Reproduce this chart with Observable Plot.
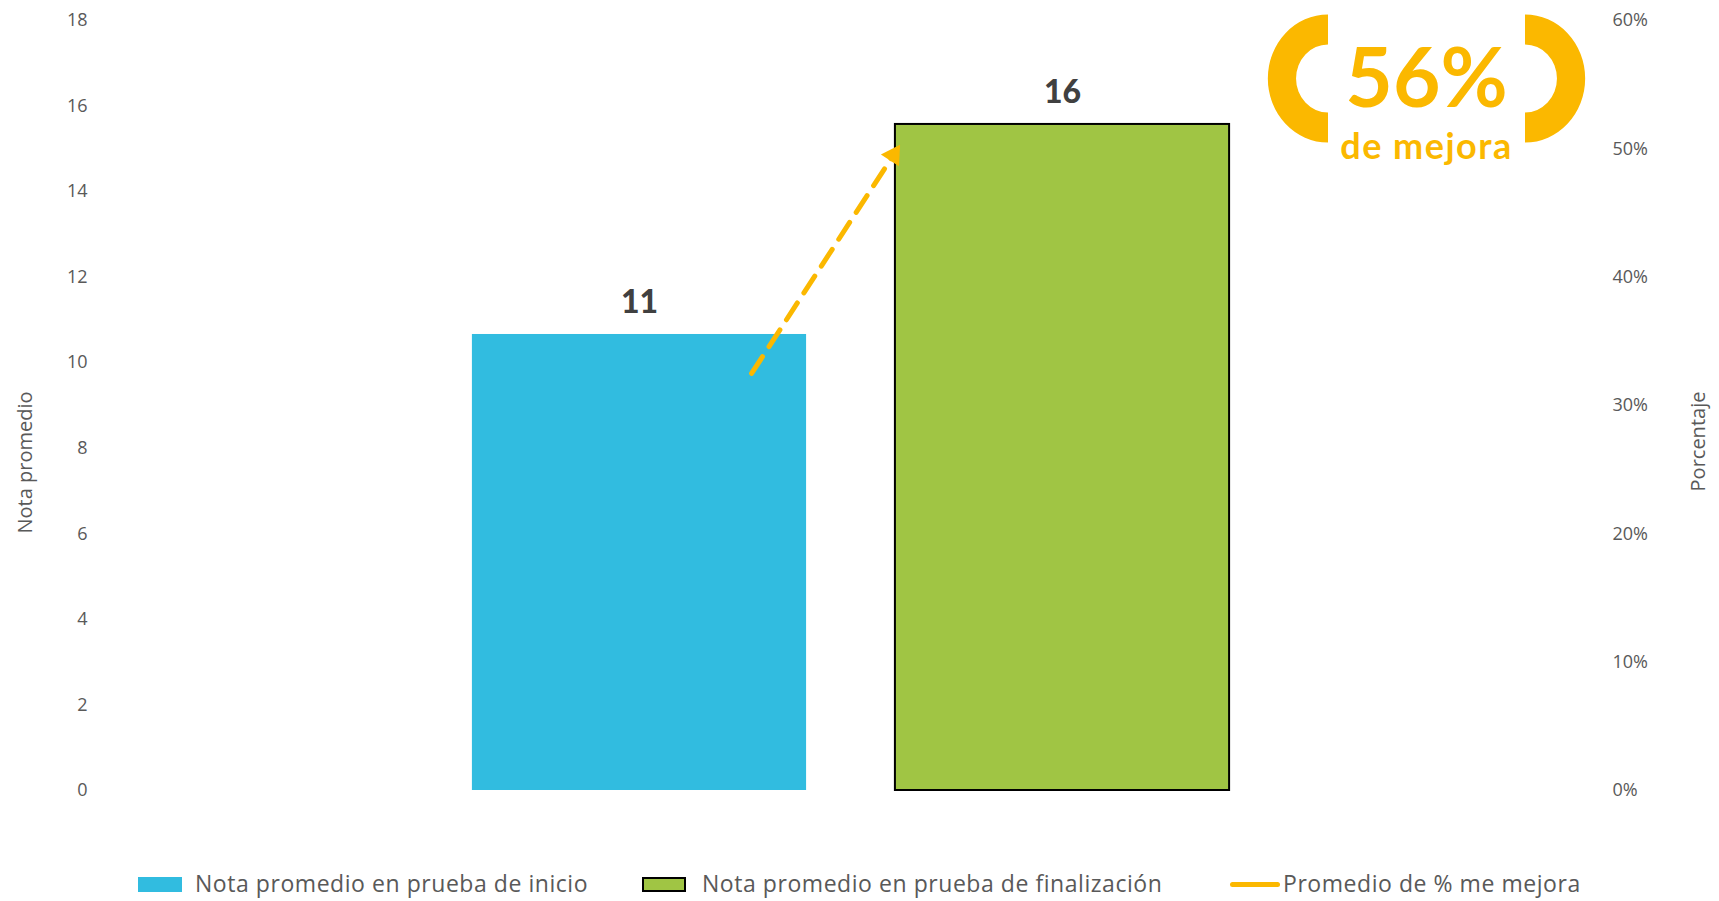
<!DOCTYPE html>
<html>
<head>
<meta charset="utf-8">
<script src="https://cdn.jsdelivr.net/npm/d3@7"></script>
<script src="https://cdn.jsdelivr.net/npm/@observablehq/plot@0.6"></script>
<style>
  html, body { margin: 0; padding: 0; background: #fff; }
  #wrap { position: relative; width: 1719px; height: 901px; overflow: hidden; }
  .leg { position: absolute; font-family: "Open Sans", sans-serif; font-size: 23px; letter-spacing: 0.55px; color: #595959; line-height: 1; white-space: nowrap; }
  .sw { position: absolute; }
</style>
</head>
<body>
<div id="wrap"></div>
<script>
// ---- data ----
const series = ["Nota promedio en prueba de inicio", "Nota promedio en prueba de finalización"];
const notas = [10.66, 15.57];
const colors = ["#31BCE0", "#A0C544"];
const lineName = "Promedio de % me mejora";
const lineColor = "#FBB800";
const mejoraX = [0.265, 0.60];      // arrow points (category units)
const mejoraPct = [0.325, 0.495];   // arrow values on secondary axis
const mejoraTotal = 0.56;
const leftTicks = [0, 2, 4, 6, 8, 10, 12, 14, 16, 18];
const rightTicks = [0, 0.1, 0.2, 0.3, 0.4, 0.5, 0.6];
const yTitle = "Nota promedio";
const y2Title = "Porcentaje";
const badgeSub = "de mejora";

const ratio = 18 / 0.6; // secondary axis: 60% <-> 18
const bars = series.map((s, i) => ({s, i, v: notas[i], c: colors[i]}));
const arrow = mejoraX.map((x, i) => ({x, y: mejoraPct[i] * ratio}));
const half = 0.395;

function badge(index, scales, values, dimensions) {
  const g = d3.create("svg:g");
  const cx1 = dimensions.width - 391, cx2 = dimensions.width - 194, cy = 78.5;
  const arcL = d3.arc().innerRadius(34).outerRadius(64).startAngle(Math.PI).endAngle(2 * Math.PI);
  const arcR = d3.arc().innerRadius(34).outerRadius(64).startAngle(0).endAngle(Math.PI);
  g.append("path").attr("d", arcL()).attr("fill", lineColor)
    .attr("transform", `translate(${cx1},${cy}) scale(0.94,1)`);
  g.append("path").attr("d", arcR()).attr("fill", lineColor)
    .attr("transform", `translate(${cx2},${cy}) scale(0.94,1)`);
  const cx = (cx1 + cx2) / 2;
  g.append("text").attr("x", cx).attr("y", 107).attr("text-anchor", "middle")
    .attr("font-family", "Lato").attr("font-weight", 700).attr("font-size", 82)
    .attr("fill", lineColor).text(Math.round(mejoraTotal * 100) + "%");
  g.append("text").attr("x", cx).attr("y", 159).attr("text-anchor", "middle")
    .attr("font-family", "Lato").attr("font-weight", 700).attr("font-size", 36)
    .attr("letter-spacing", "1.5px")
    .attr("fill", lineColor).text(badgeSub);
  return g.node();
}

const chart = Plot.plot({
  width: 1719,
  height: 820,
  marginLeft: 95,
  marginRight: 113,
  marginTop: 20,
  marginBottom: 30,
  x: {domain: [-1.286, 2.286], axis: null},
  y: {domain: [0, 18], axis: null},
  style: {fontFamily: "Open Sans", fontSize: "18px", color: "#595959", background: "white"},
  marks: [
    Plot.axisY(leftTicks, {anchor: "left", tickSize: 0, tickPadding: 8, label: null, fontSize: 18}),
    Plot.axisY(rightTicks.map(p => p * ratio), {anchor: "right", tickSize: 0, tickPadding: 6, label: null, fontSize: 18,
      tickFormat: d => Math.round(d / ratio * 100) + "%"}),
    Plot.text([yTitle], {frameAnchor: "left", textAnchor: "middle", text: d => d, rotate: -90, dx: -70, dy: 57,
      fontSize: 20, fill: "#595959", ariaLabel: "ytitle"}),
    Plot.text([y2Title], {frameAnchor: "right", textAnchor: "middle", text: d => d, rotate: -90, dx: 92, dy: 36,
      fontSize: 20, fill: "#595959", ariaLabel: "ytitle"}),
    Plot.rectY(bars.slice(0, 1), {x1: d => d.i - half, x2: d => d.i + half, y: "v", fill: "c"}),
    Plot.rectY(bars.slice(1), {x1: d => d.i - half, x2: d => d.i + half, y: "v", fill: "c",
      stroke: "#000", strokeWidth: 2, ariaLabel: "green-bar"}),
    Plot.text(bars, {x: "i", y: "v", text: d => String(Math.round(d.v)), dy: -32, fontSize: 32,
      fontWeight: 900, fontFamily: "Lato", fill: "#404040", ariaLabel: "bar-labels"}),
    Plot.line(arrow, {x: "x", y: "y", stroke: lineColor, strokeWidth: 5, strokeDasharray: "20,12"}),
    Plot.dot(arrow.slice(-1), {x: "x", y: "y", symbol: "triangle", r: 8, rotate: 33, fill: lineColor}),
    badge
  ]
});

const wrap = document.getElementById("wrap");
wrap.appendChild(chart);
d3.select(chart).selectAll('g[aria-label="green-bar"]').style("filter", "drop-shadow(5px 1px 3px rgba(0,0,0,0.45))");
d3.select(chart).selectAll('g[aria-label="bar-labels"]').style("filter", "drop-shadow(1px 1px 1px rgba(0,0,0,0.25))");
d3.select(chart).selectAll('g[aria-label="ytitle"] text').style("letter-spacing", "0.6px");

// ---- legend ----
const legendItems = [
  {label: series[0], kind: "rect", fill: colors[0], sx: 138, tx: 195},
  {label: series[1], kind: "rect", fill: colors[1], border: true, sx: 642, tx: 702},
  {label: lineName, kind: "line", fill: lineColor, sx: 1230, tx: 1283}
];
legendItems.forEach(it => {
  const sw = document.createElement("div");
  sw.className = "sw";
  if (it.kind === "rect") {
    Object.assign(sw.style, {left: it.sx + "px", top: "877px", width: "44px", height: "15px", background: it.fill,
      boxSizing: "border-box", border: it.border ? "2px solid #000" : "none"});
  } else {
    Object.assign(sw.style, {left: it.sx + "px", top: "882px", width: "50px", height: "5px", background: it.fill, borderRadius: "3px"});
  }
  wrap.appendChild(sw);
  const t = document.createElement("div");
  t.className = "leg";
  t.textContent = it.label;
  Object.assign(t.style, {left: it.tx + "px", top: "872px"});
  wrap.appendChild(t);
});
</script>
</body>
</html>
